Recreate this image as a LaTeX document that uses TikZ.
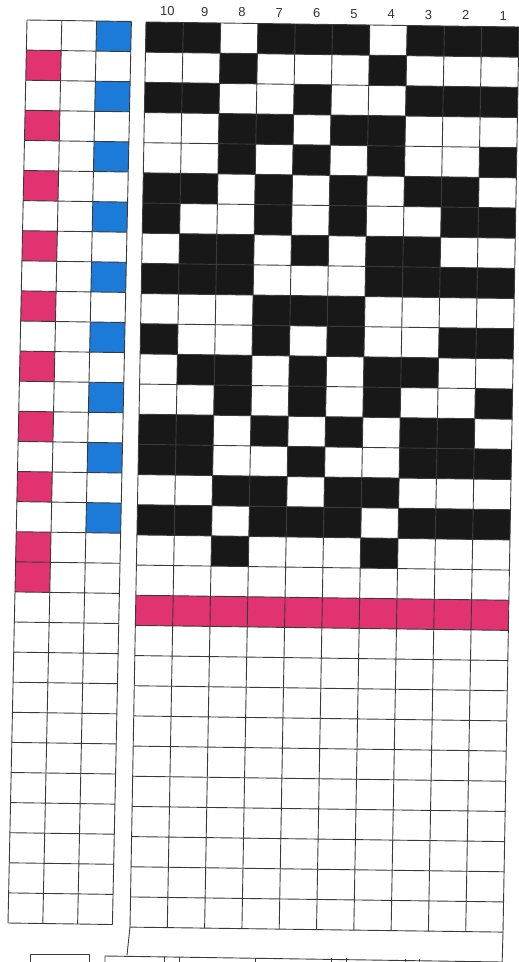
\documentclass[tikz,border=0pt]{standalone}
\usepackage{fontspec}
\setmainfont{Liberation Sans}
\definecolor{rose}{HTML}{E0336F}
\definecolor{sky}{HTML}{1C7AD8}
\definecolor{ink}{HTML}{181818}
\definecolor{gline}{HTML}{3A3A3A}
\tikzset{gridline/.style={draw=gline,line width=0.9pt},
  inkcell/.style={fill=ink},
  rosecell/.style={fill=rose},
  skycell/.style={fill=sky},
  numlabel/.style={font=\fontsize{13}{13}\selectfont,text=black!80,inner sep=0pt}}
\begin{document}
\begin{tikzpicture}[x=1pt,y=1pt]
\useasboundingbox (0,0) rectangle (519,-962);
\fill[white] (0,0) rectangle (519,-962);
% ---- left grid (3 x 30)
\begin{scope}[shift={(27pt,-20pt)},x={(34.8pt,-0.5pt)},y={(-0.633pt,-30.1pt)}]
  \foreach \j in {0,2,...,16} \fill[skycell] (2,\j) -- (3,\j) -- (3,\j+1) -- (2,\j+1) -- cycle;
  \foreach \j in {1,3,...,15,17,18} \fill[rosecell] (0,\j) -- (1,\j) -- (1,\j+1) -- (0,\j+1) -- cycle;
  \foreach \i in {0,...,3} \draw[gridline] (\i,0) -- (\i,30);
  \foreach \j in {0,...,30} \draw[gridline] (0,\j) -- (3,\j);
\end{scope}
% ---- main grid (10 x 30)
\begin{scope}[shift={(146pt,-22pt)},x={(37.3pt,-0.5pt)},y={(-0.533pt,-30.17pt)}]
  \foreach \j/\cols in {0/{0,1,3,4,5,7,8,9},1/{2,6},2/{0,1,4,7,8,9},3/{2,3,5,6},
      4/{2,4,6,9},5/{0,1,3,5,7,8},6/{0,3,5,8,9},7/{1,2,4,6,7},8/{0,1,2,6,7,8,9},
      9/{3,4,5},10/{0,3,5,8,9},11/{1,2,4,6,7},12/{2,4,6,9},13/{0,1,3,5,7,8},
      14/{0,1,4,7,8,9},15/{2,3,5,6},16/{0,1,3,4,5,7,8,9},17/{2,6}}
    \foreach \i in \cols
      \fill[inkcell] (\i,\j) -- (\i+1,\j) -- (\i+1,\j+1) -- (\i,\j+1) -- cycle;
  \fill[rosecell] (0,19) -- (10,19) -- (10,20) -- (0,20) -- cycle;
  \foreach \i in {0,...,10} \draw[gridline] (\i,0) -- (\i,30);
  \foreach \j in {0,...,30} \draw[gridline] (0,\j) -- (10,\j);
  \foreach \n [count=\k from 0] in {10,9,8,7,6,5,4,3,2,1}
    \node[numlabel] (num\n) at (\k+0.57,-0.36) {\n};
  \coordinate (mbl) at (0,30);
  \coordinate (mbr) at (10,30);
\end{scope}
% ---- bottom band and strips
\coordinate (bl) at (127,-955);
\coordinate (br) at (502,-968);
\draw[gridline] (mbl) -- (bl);
\draw[gridline] (mbr) -- (br);
\draw[gridline] (105,-968) -- (105,-956) -- (502,-962);
\foreach \xx in {164,179,255,331,346,405,419}
  \draw[gridline] (\xx,-956-\xx/100+1) -- (\xx,-968);
\draw[gridline] (30,-968) -- (30,-954) -- (89,-954) -- (89,-968);
\end{tikzpicture}
\end{document}
